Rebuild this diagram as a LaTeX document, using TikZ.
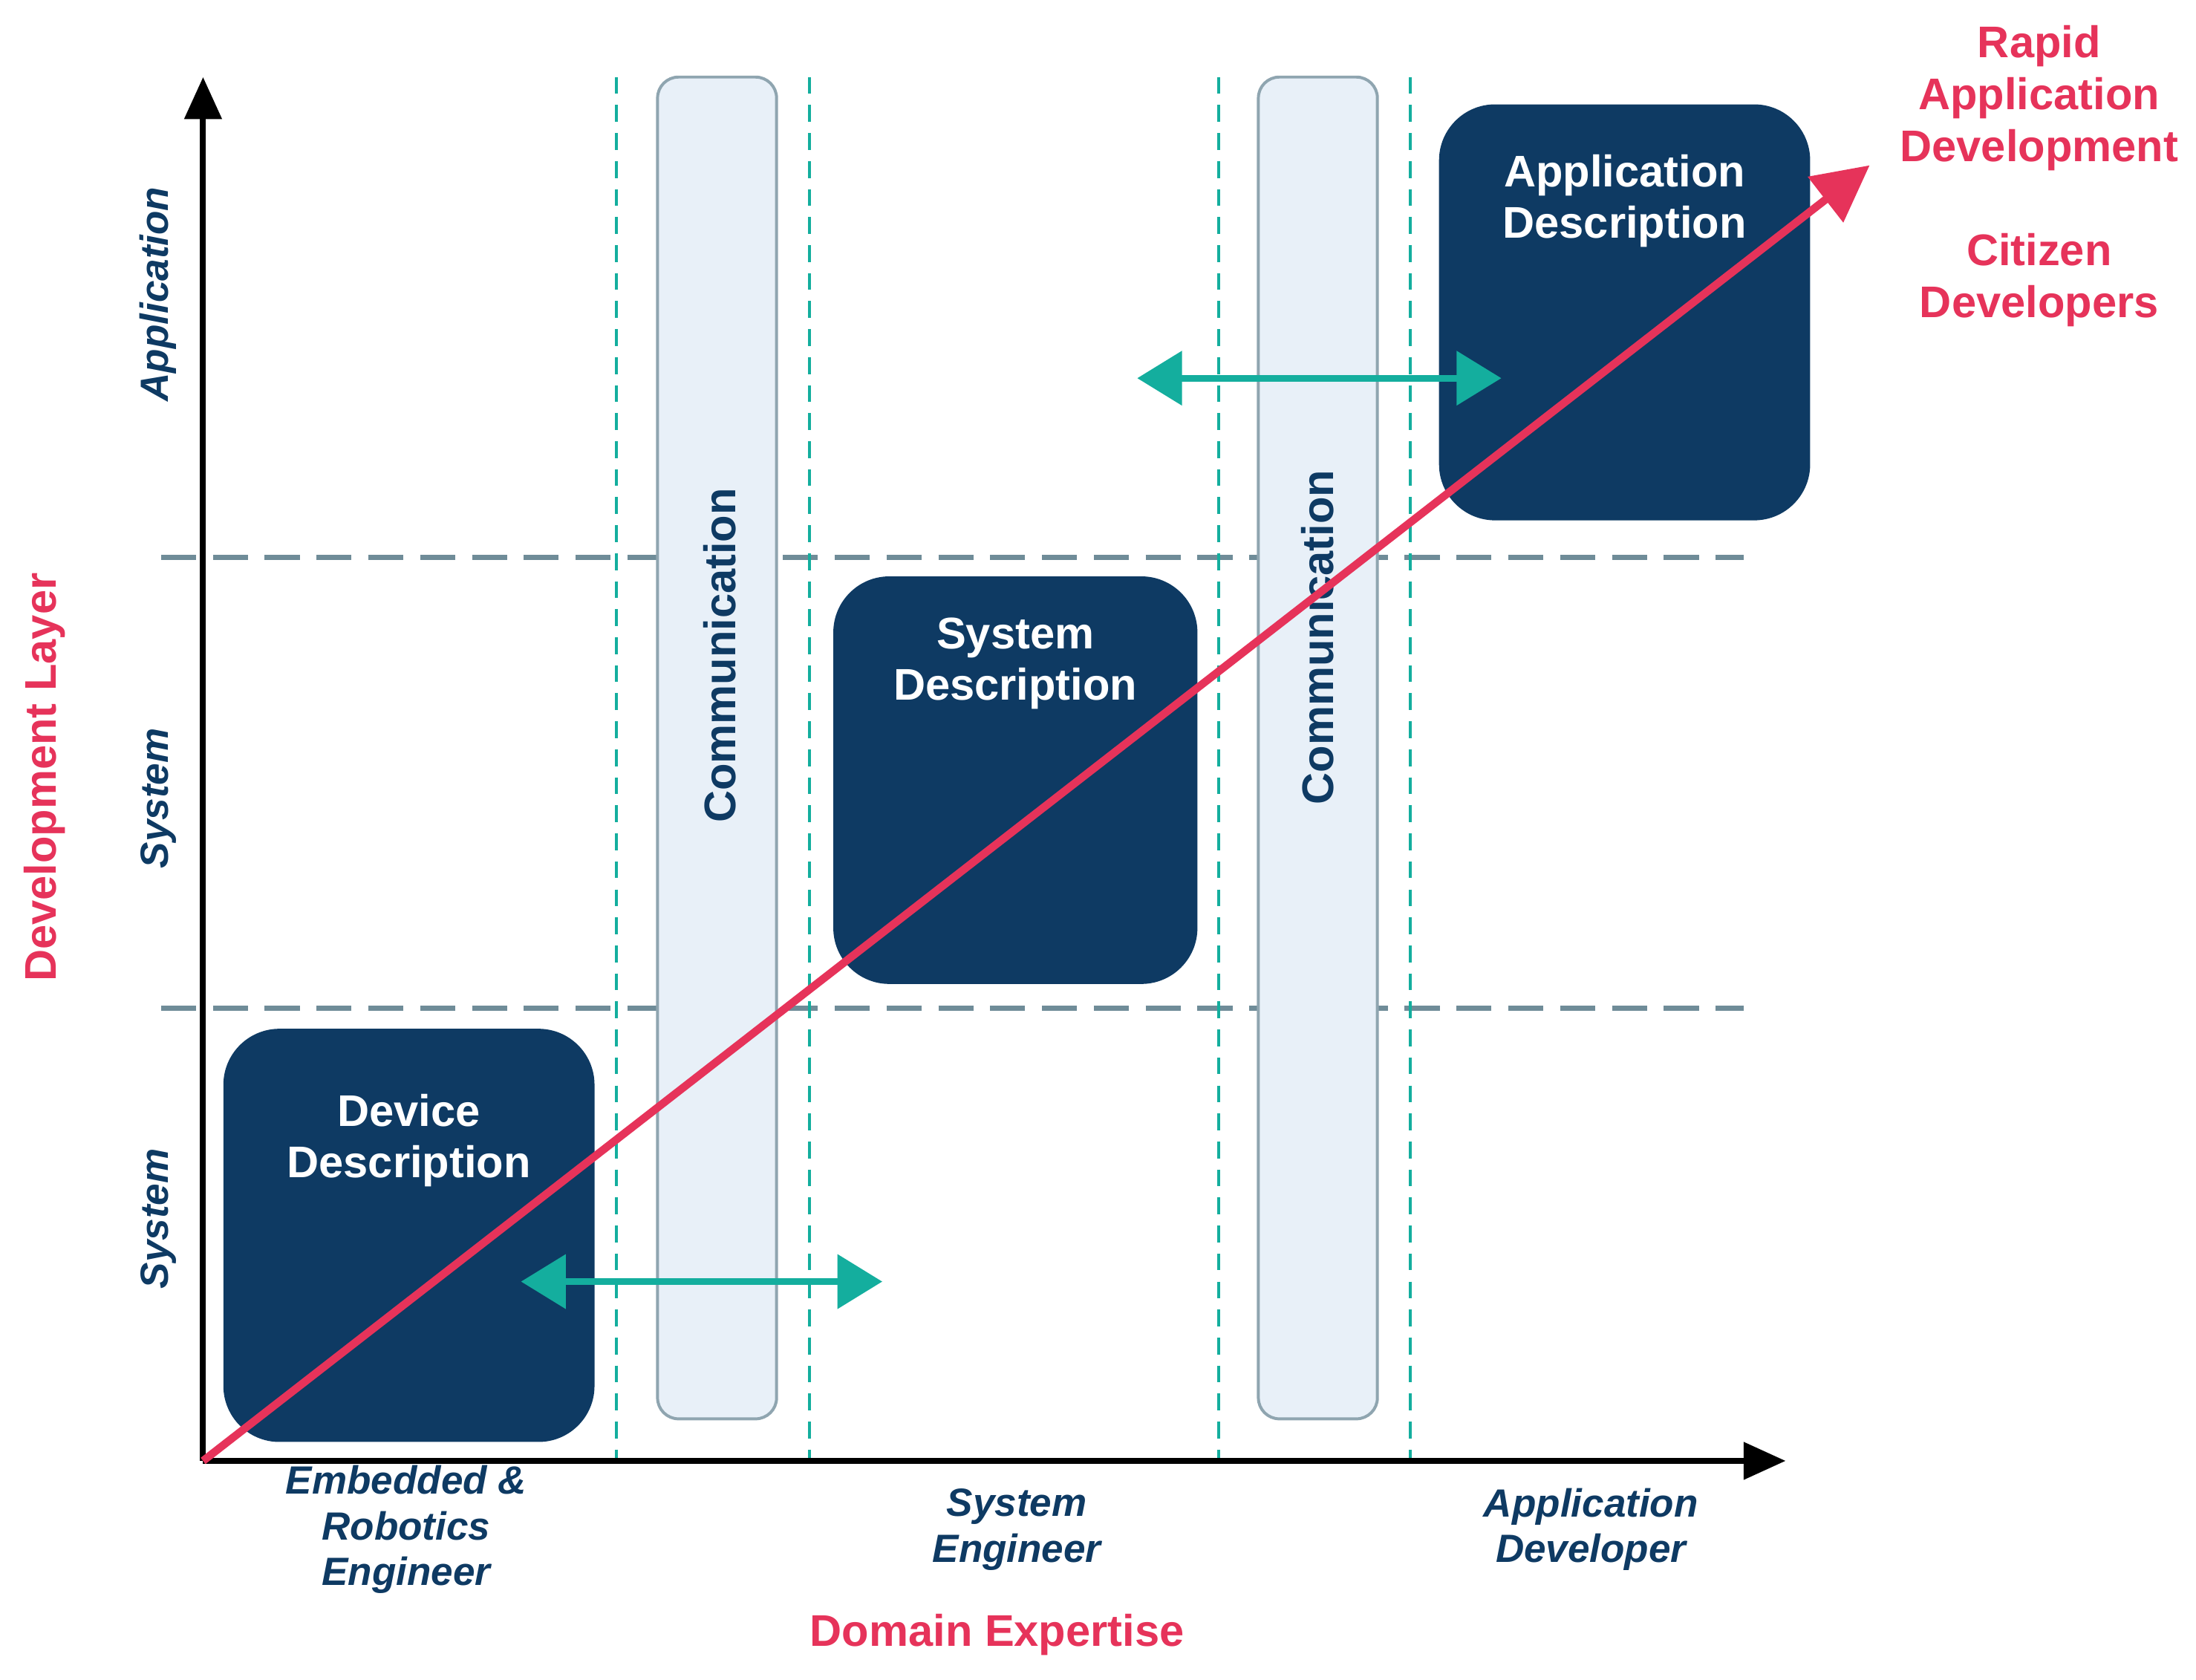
\documentclass[tikz,border=0pt]{standalone}
\usepackage{fontspec}
\setmainfont{Liberation Sans}
\usetikzlibrary{positioning,arrows.meta}
\definecolor{navy}{HTML}{0E3A63}
\definecolor{rose}{HTML}{E6335A}
\definecolor{teal2}{HTML}{14AE9E}
\definecolor{slate}{HTML}{6F8C98}
\definecolor{barfill}{HTML}{E8F0F8}
\definecolor{bardraw}{HTML}{8FA5B0}
\begin{document}
\begin{tikzpicture}[x=0.1mm,y=-0.1mm]
    \tikzset{
        box/.style={fill=navy, rounded corners=4mm, inner sep=0pt},
        boxtext/.style={text=white, font=\fontsize{9}{10.4}\selectfont\bfseries, align=center},
        bar/.style={fill=barfill, draw=bardraw, line width=0.6pt, rounded corners=1.5mm, minimum width=8.5mm, minimum height=95.8mm, inner sep=0pt},
        bartext/.style={rotate=90, text=navy, font=\fontsize{9}{10}\selectfont\bfseries},
        lvl/.style={rotate=90, text=navy, font=\fontsize{8}{9.5}\selectfont\bfseries\itshape},
        role/.style={text=navy, font=\fontsize{8}{9.3}\selectfont\bfseries\itshape, align=center},
        red/.style={text=rose, font=\fontsize{9}{10.5}\selectfont\bfseries, align=center},
        layer/.style={draw=slate, line width=1.1pt, dash pattern=on 2.5mm off 1.2mm},
        split/.style={draw=teal2, line width=0.6pt, dash pattern=on 1.2mm off 0.8mm},
        swap/.style={draw=teal2, line width=1.3pt, {Triangle[length=3.2mm,width=3.8mm]}-{Triangle[length=3.2mm,width=3.8mm]}}
        }
    \useasboundingbox (0,0) rectangle (1568,1199);

    % grid
    \coordinate (origin) at (145,1043);
    \coordinate (ytop) at (145,55);
    \coordinate (xend) at (1275,1043);
    \draw[layer] (115,398) -- (1245,398);
    \draw[layer] (115,720) -- (1245,720);
    \foreach \x in {440,578,870,1007}
        \draw[split] (\x,55) -- (\x,1043);

    % communication bars
    \node (comm1) [bar] at (512,534) {};
    \node (comm2) [bar] at (941,534) {};
    \node [bartext] at (514,468) {Communication};
    \node [bartext] at (941,455) {Communication};

    % descriptions
    \node (devbox) [box, minimum width=26.5mm, minimum height=29.5mm] at (292,882) {};
    \node (devtext) [boxtext, below=3.5mm of devbox.north] {Device\\Description};
    \node (sysbox) [box, minimum width=26mm, minimum height=29.1mm] at (725,557) {};
    \node (systext) [boxtext, below=1.8mm of sysbox.north] {System\\Description};
    \node (appbox) [box, minimum width=26.5mm, minimum height=29.7mm] at (1160,223) {};
    \node (apptext) [boxtext, below=2.4mm of appbox.north] {Application\\Description};

    % axes
    \draw[line width=1.2pt, -{Triangle[length=3mm,width=2.6mm]}] (origin) -- (ytop);
    \draw[line width=1.2pt, -{Triangle[length=3mm,width=2.6mm]}] (origin) -- (xend);

    % exchange arrows
    \coordinate (swapAl) at (372,915);
    \coordinate (swapAr) at (630,915);
    \coordinate (swapBl) at (812,270);
    \coordinate (swapBr) at (1072,270);
    \draw[swap] (swapAl) -- (swapAr);
    \draw[swap] (swapBl) -- (swapBr);

    % trend
    \coordinate (rad) at (1335,118);
    \draw[rose, line width=1.6pt, -{Triangle[length=4mm,width=4mm]}] (origin) -- (rad);

    % labels
    \node [lvl] at (113,210) {Application};
    \node [lvl] at (113,570) {System};
    \node [lvl] at (113,870) {System};
    \node [red, rotate=90] at (32,555) {Development Layer};
    \node [role] at (290,1092) {Embedded \&\\Robotics\\Engineer};
    \node [role] at (726,1092) {System\\Engineer};
    \node [role] at (1136,1092) {Application\\Developer};
    \node [red] at (712,1167) {Domain Expertise};
    \node [red] at (1456,70) {Rapid\\Application\\Development};
    \node [red] at (1456,200) {Citizen\\Developers};
\end{tikzpicture}
\end{document}
